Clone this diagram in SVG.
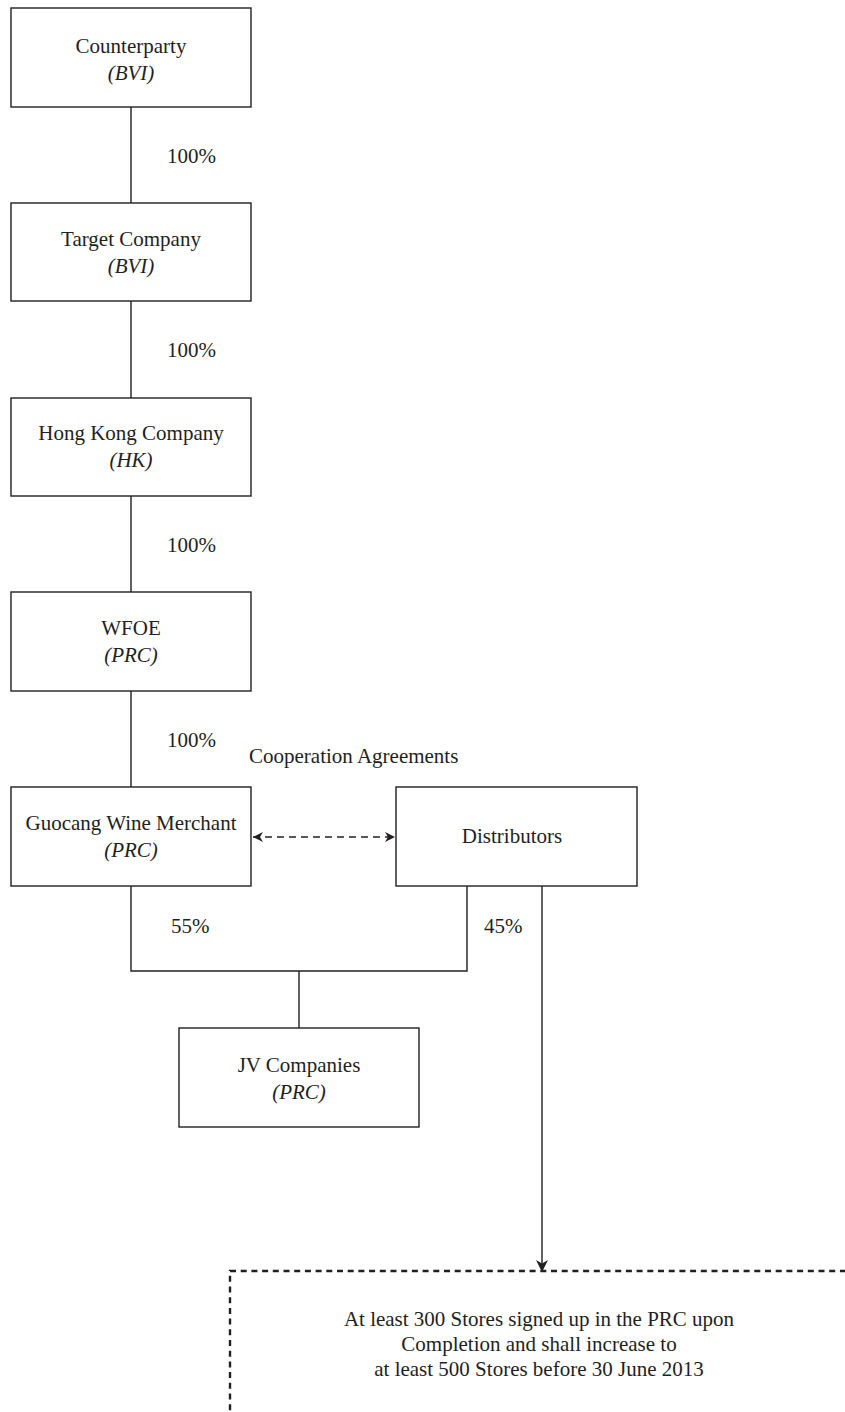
<svg xmlns="http://www.w3.org/2000/svg" width="845" height="1412" viewBox="0 0 845 1412">
<style>
.box{fill:#fff;stroke:#231f20;stroke-width:1.4}
.t{font-family:"Liberation Serif","Times New Roman",serif;font-size:21px;fill:#231f20}
.c{text-anchor:middle}
.i{font-style:italic}
.ln{fill:none;stroke:#231f20;stroke-width:1.4}
.dash{fill:none;stroke:#231f20;stroke-width:1.5;stroke-dasharray:7 5}
.dbox{fill:none;stroke:#231f20;stroke-width:2.4;stroke-dasharray:6 4.7}
</style>
<defs>
<marker id="ah" viewBox="0 0 10 10" refX="10" refY="5" markerWidth="10" markerHeight="10" markerUnits="userSpaceOnUse" orient="auto-start-reverse">
<path d="M0,0 L10,5 L0,10 L3,5 z" fill="#231f20"/>
</marker>
<marker id="ah2" viewBox="0 0 10 10" refX="10" refY="5" markerWidth="12" markerHeight="12" markerUnits="userSpaceOnUse" orient="auto">
<path d="M0,0 L10,5 L0,10 L3,5 z" fill="#231f20"/>
</marker>
</defs>
<g id="connectors">
<line class="ln" x1="131" y1="107" x2="131" y2="203"/>
<line class="ln" x1="131" y1="301" x2="131" y2="398"/>
<line class="ln" x1="131" y1="496" x2="131" y2="592"/>
<line class="ln" x1="131" y1="691" x2="131" y2="787"/>
<path class="ln" d="M131,886 V971 H467 V886"/>
<line class="ln" x1="299" y1="971" x2="299" y2="1028"/>
<line class="ln" x1="542" y1="886" x2="542" y2="1272" marker-end="url(#ah2)"/>
<line class="dash" x1="253" y1="837" x2="395" y2="837" marker-start="url(#ah)" marker-end="url(#ah)"/>
<text class="t" x="167" y="163">100%</text>
<text class="t" x="167" y="357">100%</text>
<text class="t" x="167" y="552">100%</text>
<text class="t" x="167" y="747">100%</text>
<text class="t" x="171" y="933">55%</text>
<text class="t" x="484" y="933">45%</text>
<text class="t" x="249" y="763">Cooperation Agreements</text>
</g>
<g id="counterparty">
<rect class="box" x="11" y="8" width="240" height="99"/>
<text class="t c" x="131" y="53">Counterparty</text>
<text class="t c i" x="131" y="80">(BVI)</text>
</g>
<g id="target">
<rect class="box" x="11" y="203" width="240" height="98"/>
<text class="t c" x="131" y="246">Target Company</text>
<text class="t c i" x="131" y="273">(BVI)</text>
</g>
<g id="hongkong">
<rect class="box" x="11" y="398" width="240" height="98"/>
<text class="t c" x="131" y="440">Hong Kong Company</text>
<text class="t c i" x="131" y="467">(HK)</text>
</g>
<g id="wfoe">
<rect class="box" x="11" y="592" width="240" height="99"/>
<text class="t c" x="131" y="635">WFOE</text>
<text class="t c i" x="131" y="662">(PRC)</text>
</g>
<g id="guocang">
<rect class="box" x="11" y="787" width="240" height="99"/>
<text class="t c" x="131" y="830">Guocang Wine Merchant</text>
<text class="t c i" x="131" y="857">(PRC)</text>
</g>
<g id="distributors">
<rect class="box" x="396" y="787" width="241" height="99"/>
<text class="t c" x="512" y="843">Distributors</text>
</g>
<g id="jv">
<rect class="box" x="179" y="1028" width="240" height="99"/>
<text class="t c" x="299" y="1072">JV Companies</text>
<text class="t c i" x="299" y="1099">(PRC)</text>
</g>
<g id="stores">
<rect class="dbox" x="230" y="1271" width="640" height="200"/>
<text class="t c" x="539" y="1326">At least 300 Stores signed up in the PRC upon</text>
<text class="t c" x="539" y="1351">Completion and shall increase to</text>
<text class="t c" x="539" y="1376">at least 500 Stores before 30 June 2013</text>
</g>
</svg>
